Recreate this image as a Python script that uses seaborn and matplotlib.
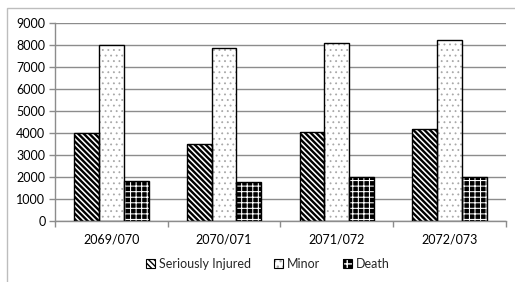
import pandas as pd
import matplotlib
matplotlib.use("Agg")
import matplotlib.pyplot as plt
from matplotlib.patches import Rectangle, Patch
from matplotlib.ticker import MultipleLocator, FixedLocator
import seaborn as sns

years = ["2069/070", "2070/071", "2071/072", "2072/073"]
seriously_injured = [4000, 3500, 4050, 4200]
minor = [8000, 7880, 8100, 8220]
death = [1800, 1780, 2000, 2000]
types = ["Seriously Injured", "Minor", "Death"]

df = pd.DataFrame({
    "year": years * 3,
    "type": [types[0]] * 4 + [types[1]] * 4 + [types[2]] * 4,
    "value": seriously_injured + minor + death,
})

# face colour, hatch, hatch colour, hatch linewidth per series
styles = {
    "Seriously Injured": ("white", "\\" * 6, "black", 1.7),
    "Minor": ("white", "...", "#a8a8a8", 0.6),
    "Death": ("black", "+++", "white", 0.75),
}

sns.set_theme(style="white")
plt.rcParams["font.family"] = ["Lato", "DejaVu Sans"]
plt.rcParams["hatch.linewidth"] = 1.0


def style_patch(p, t):
    face, hatch, hcol, hlw = styles[t]
    p.set_facecolor(face)
    p.set_hatch(hatch)
    p.set_edgecolor(hcol)
    p.set_linewidth(0)
    if hasattr(p, "set_hatch_linewidth"):
        p.set_hatch_linewidth(hlw)


fig = plt.figure(figsize=(5.15, 2.82), dpi=100)
ax = fig.add_axes([0.107, 0.216, 0.875, 0.702])

sns.barplot(data=df, x="year", y="value", hue="type", hue_order=types,
            width=0.66, gap=0, ax=ax, legend=False, errorbar=None,
            palette=["white"] * 3, saturation=1)

# hatch is drawn in the edge colour, so add a black outline on top
n = len(years)
for i, bar in enumerate(ax.patches[: n * 3]):
    style_patch(bar, types[i // n])
    ax.add_patch(Rectangle(bar.get_xy(), bar.get_width(), bar.get_height(),
                           fill=False, edgecolor="black", linewidth=1.0, zorder=3))

ax.set_ylim(0, 9000)
ax.yaxis.set_major_locator(MultipleLocator(1000))
ax.grid(axis="y", color="#8c8c8c", linewidth=1.0)
ax.set_axisbelow(True)
ax.set_xlim(-0.5, n - 0.5)
ax.set_xlabel("")
ax.set_ylabel("")
for s in ["top", "right"]:
    ax.spines[s].set_visible(False)
for s in ["bottom", "left"]:
    ax.spines[s].set_color("#8c8c8c")
    ax.spines[s].set_linewidth(1.0)
ax.tick_params(axis="x", which="major", length=0, labelsize=9, pad=9, colors="#000000")
ax.tick_params(axis="y", length=4, width=1.0, labelsize=9, pad=3, colors="#000000",
               color="#8c8c8c", direction="out", left=True)
ax.xaxis.set_minor_locator(FixedLocator([k - 0.5 for k in range(n + 1)]))
ax.tick_params(axis="x", which="minor", length=4, width=1.0, color="#8c8c8c",
               direction="out", bottom=True)

handles = []
for t in types:
    p = Patch()
    style_patch(p, t)
    handles.append((p, Patch(fill=False, edgecolor="black", linewidth=0.8)))
fig.legend(handles, types, loc="center", bbox_to_anchor=(0.52, 0.063), ncol=3,
           frameon=False, fontsize=9, handlelength=0.75, handleheight=0.75,
           handletextpad=0.3, columnspacing=1.8)

fig.patches.append(Rectangle((0.0136, -0.05), 1.1, 1.02, transform=fig.transFigure,
                             fill=False, edgecolor="#bdbdbd", linewidth=1.0))

fig.savefig("out.png", dpi=100)
